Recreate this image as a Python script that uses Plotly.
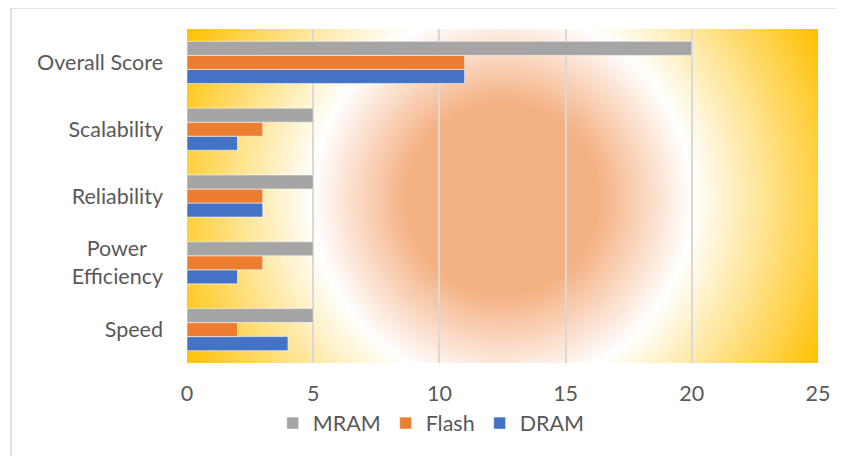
import base64
import plotly.graph_objects as go

# data
categories = ["Speed", "Power&nbsp;&nbsp;&nbsp;<br>Efficiency", "Reliability", "Scalability", "Overall Score"]
dram = [4, 2, 3, 2, 11]
flash = [2, 3, 3, 3, 11]
mram = [5, 5, 5, 5, 20]

# radial gradient for the plot background (orange centre -> white -> gold corners)
svg = (
    '<svg xmlns="http://www.w3.org/2000/svg" width="631" height="334" '
    'viewBox="0 0 631 334" preserveAspectRatio="none"><defs>'
    '<radialGradient id="g" gradientUnits="userSpaceOnUse" cx="315.5" cy="170" r="357">'
    '<stop offset="0.27" stop-color="#F4B183"/>'
    '<stop offset="0.53" stop-color="#FFFFFF"/>'
    '<stop offset="1" stop-color="#FFC000"/>'
    '</radialGradient></defs>'
    '<rect width="631" height="334" fill="url(#g)"/></svg>'
)
bg = "data:image/svg+xml;base64," + base64.b64encode(svg.encode()).decode()

edge = dict(color="rgba(255,255,255,0.55)", width=1)

fig = go.Figure()
fig.add_trace(go.Bar(y=categories, x=dram, name="DRAM", orientation="h",
                     marker=dict(color="#4472C4", line=edge)))
fig.add_trace(go.Bar(y=categories, x=flash, name="Flash", orientation="h",
                     marker=dict(color="#ED7D31", line=edge)))
fig.add_trace(go.Bar(y=categories, x=mram, name="MRAM", orientation="h",
                     marker=dict(color="#A5A5A5", line=edge)))

# page body has an 8px margin, so the margins are shifted to compensate
fig.update_layout(
    width=844, height=456,
    margin=dict(l=179, r=34, t=21, b=101),
    barmode="group", bargap=0.37, bargroupgap=0,
    paper_bgcolor="white", plot_bgcolor="rgba(0,0,0,0)",
    font=dict(family="Lato, Open Sans, sans-serif", size=21.5, color="#595959"),
    showlegend=True,
    legend=dict(orientation="h", traceorder="reversed",
                x=0.387, xanchor="center", y=-0.18, yanchor="middle",
                font=dict(size=21.5, color="#595959"), itemwidth=30),
    images=[dict(source=bg, xref="paper", yref="paper", x=0, y=1,
                 sizex=1, sizey=1, xanchor="left", yanchor="top",
                 sizing="stretch", layer="below")],
    shapes=[dict(type="rect", xref="paper", yref="paper",
                 x0=-0.279, x1=1.5, y0=-0.5, y1=1.063,
                 line=dict(color="#D9D9D9", width=1.5), layer="below")],
)
fig.update_xaxes(range=[0, 25], dtick=5, showgrid=True, gridcolor="#D9D9D9",
                 gridwidth=1.5, zeroline=False, showline=False,
                 ticklabelstandoff=15, fixedrange=True)
fig.update_yaxes(showgrid=False, showline=False, ticks="",
                 ticklabelstandoff=23, fixedrange=True)

fig.write_html("out.html")
